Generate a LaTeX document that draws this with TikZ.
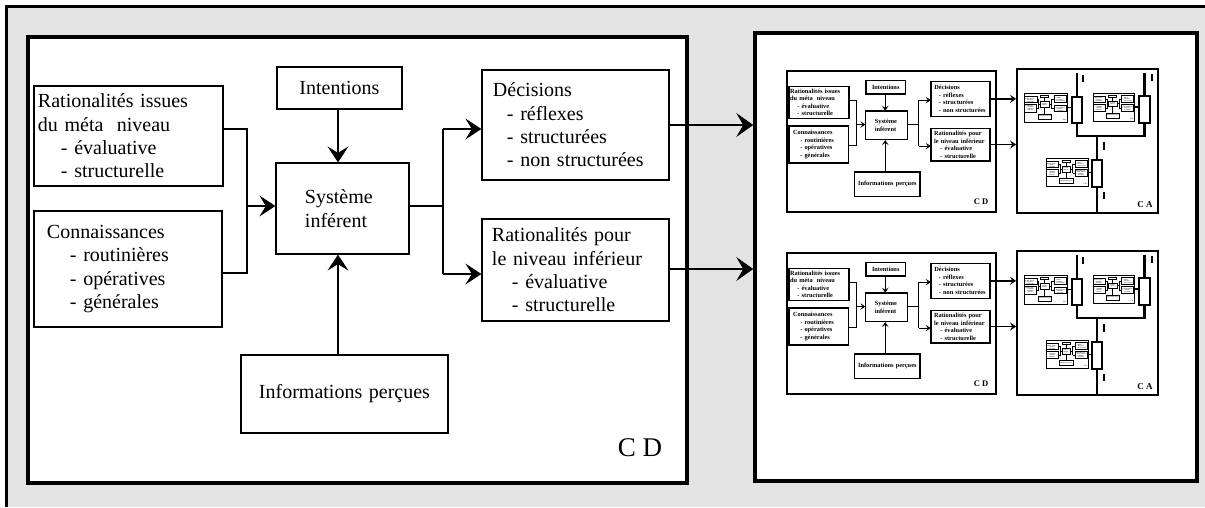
\documentclass[tikz,border=0pt]{standalone}
\usepackage{fontspec}
\setmainfont{Liberation Serif}
\usetikzlibrary{arrows.meta}
\tikzset{
  panel/.style={draw, line width=3.5pt, fill=white, inner sep=0pt, minimum width=659pt, minimum height=446pt},
  box/.style={draw, line width=1.2pt, fill=white, inner xsep=0pt, inner ysep=0pt, font=\fontsize{20}{23.3}\selectfont, align=left},
  bx/.style 2 args={box, minimum width=#1, text width=#1, minimum height=#2},
  conn/.style={line width=1.2pt},
  arr/.style={-{Stealth[length=16pt,width=21pt,inset=6.5pt]}},
  bigarr/.style={-{Stealth[length=17pt,width=24pt,inset=7pt]}},
  lbl/.style={font=\fontsize{27}{30}\selectfont, inner sep=0pt},
  rect/.style={draw, line width=1.2pt, fill=white, inner sep=0pt},
  bus/.style={line width=2.2pt},
  tick/.style={line width=1.2pt},
}
% one "CD" panel, origin at its top-left corner
\newcommand\cdpanel[1]{%
  \node[panel] (#1panel) at (329.5,-223) {};
  \node[bx={189pt}{100pt}] (#1rat) at (100.5,-99) {\hspace*{4pt}Rationalités issues\\\hspace*{4pt}du méta\ \ niveau\\\hspace*{27pt}- évaluative\\\hspace*{27pt}- structurelle};
  \node[bx={188pt}{116pt}] (#1con) at (100,-232) {\hspace*{13pt}Connaissances\\\hspace*{36pt}- routinières\\\hspace*{36pt}- opératives\\\hspace*{36pt}- générales};
  \node[bx={125pt}{42pt}, align=center] (#1int) at (311.5,-51) {Intentions};
  \node[bx={133pt}{91pt}] (#1sys) at (314.5,-171.5) {\hspace*{29pt}Système\\\hspace*{29pt}inférent};
  \node[bx={207pt}{78pt}, align=center] (#1info) at (316.5,-357) {Informations perçues};
  \node[bx={187pt}{110pt}] (#1dec) at (547.5,-88) {\hspace*{11pt}Décisions\\\hspace*{25pt}- réflexes\\\hspace*{25pt}- structurées\\\hspace*{25pt}- non structurées};
  \node[bx={187pt}{102pt}] (#1ratp) at (547.5,-233) {\hspace*{10pt}Rationalités pour\\\hspace*{10pt}le niveau inférieur\\\hspace*{30pt}- évaluative\\\hspace*{30pt}- structurelle};
  \node[lbl] (#1cdl) at (612,-411) {C D};
  \coordinate (#1bx) at (219,0);
  \coordinate (#1ox) at (415,0);
  \coordinate (#1vx) at (310,0);
  \coordinate (#1ry) at (0,-92);
  \coordinate (#1cy) at (0,-236);
  \coordinate (#1sy) at (0,-169);
  \coordinate (#1dy) at (0,-92);
  \coordinate (#1py) at (0,-237);
  \coordinate (#1o1) at (641,-88);
  \coordinate (#1o2) at (641,-232);
  \draw[conn] (#1rat.east |- #1ry) -| (#1bx |- #1cy) -- (#1con.east |- #1cy);
  \draw[conn,arr] (#1bx |- #1sy) -- (#1sys.west |- #1sy);
  \draw[conn,arr] (#1int.south -| #1vx) -- (#1sys.north -| #1vx);
  \draw[conn,arr] (#1info.north -| #1vx) -- (#1sys.south -| #1vx);
  \draw[conn] (#1sys.east |- #1sy) -- (#1ox |- #1sy);
  \draw[conn] (#1ox |- #1dy) -- (#1ox |- #1py);
  \draw[conn,arr] (#1ox |- #1dy) -- (#1dec.west |- #1dy);
  \draw[conn,arr] (#1ox |- #1py) -- (#1ratp.west |- #1py);
}
\newcommand\subcd[4]{%
  \begin{scope}[shift={(#2,#3)}, scale=#4, transform shape,
      panel/.append style={line width=0.9pt}, box/.append style={line width=0.7pt, font=\fontsize{20}{23.3}\selectfont\bfseries},
      conn/.append style={line width=0.5pt}, arr/.style={}, lbl/.append style={font=\fontsize{27}{30}\selectfont\bfseries}]
    \cdpanel{#1}
  \end{scope}}
% miniature pair CD + CA, origin at top-left of the small CD
\newcommand\minipair[3]{%
  \begin{scope}[shift={(#2,-#3)}]
    \begin{scope}[scale=0.317, transform shape,
        panel/.append style={line width=1.8pt}, box/.append style={line width=1.4pt, font=\fontsize{20}{23.3}\selectfont\bfseries},
        conn/.append style={line width=1.2pt}, arr/.style={-{Stealth[length=5pt,width=6.5pt,inset=2.2pt]}},
        lbl/.append style={font=\fontsize{27}{30}\selectfont\bfseries}]
      \cdpanel{#1cd-}
    \end{scope}
    \node[draw, line width=1.8pt, fill=white, inner sep=0pt, minimum width=141pt, minimum height=144pt] (#1ca) at (300.5,-70) {};
    \draw[line width=1.8pt, -{Stealth[length=6pt,width=8pt,inset=2.2pt]}] (#1cd-dec.east |- #1cd-o1) -- (#1ca.west |- #1cd-o1);
    \draw[line width=1.8pt, -{Stealth[length=6pt,width=8pt,inset=2.2pt]}] (#1cd-ratp.east |- #1cd-o2) -- (#1ca.west |- #1cd-o2);
    \subcd{#1s1-}{237}{-22}{0.066}
    \subcd{#1s2-}{306}{-22}{0.063}
    \subcd{#1s3-}{259}{-87}{0.064}
    \coordinate (#1busy) at (0,-65);
    \coordinate (#1topy) at (0,-2);
    \node[rect, minimum width=10pt, minimum height=26pt] (#1rA) at (290,-39) {};
    \node[rect, minimum width=11pt, minimum height=27pt] (#1rB) at (357.5,-38.5) {};
    \node[rect, minimum width=10pt, minimum height=27pt] (#1rC) at (310,-102.5) {};
    \draw[bus] (#1rA.north) -- (#1rA.north |- #1topy);
    \draw[bus] (#1rB.north) -- (#1rB.north |- #1topy);
    \draw[bus] (#1rA.south) |- (#1rB.south |- #1busy) -- (#1rB.south);
    \draw[bus] (#1rC.north |- #1busy) -- (#1rC.north);
    \draw[bus] (#1rC.south) -- (#1ca.south -| #1rC.south);
    \draw[line width=1.2pt] (#1s1-panel.east) -- (#1rA.west |- #1s1-panel.east);
    \draw[line width=1.2pt] (#1s2-panel.east) -- (#1rB.west |- #1s2-panel.east);
    \draw[line width=1.2pt] (#1s3-panel.east) -- (#1rC.west |- #1s3-panel.east);
    \draw[tick] (296,-4) -- (296,-11);
    \draw[tick] (365,-3) -- (365,-10);
    \draw[tick] (317,-71) -- (317,-79);
    \draw[tick] (317,-121) -- (317,-128);
    \node[font=\fontsize{9}{10}\selectfont\bfseries, inner sep=0pt] (#1cal) at (358,-134) {C A};
  \end{scope}}
\begin{document}
\begin{tikzpicture}[x=1pt,y=1pt]
\begin{scope}[shift={(-1050,140)}]
\useasboundingbox (0,0) rectangle (1205,-507);
\fill[white] (0,0) rectangle (1205,-507);
\fill[black!11] (5,-5) rectangle (1205,-507);
\draw[line width=3pt] (6.5,-507) -- (6.5,-6.5) -- (1205,-6.5);
\begin{scope}[shift={(28,-37)}]
  \cdpanel{cd-}
\end{scope}
\node[draw, line width=3.5pt, fill=white, minimum width=442pt, minimum height=448pt, inner sep=0pt] (rp) at (976,-257) {};
\draw[conn,bigarr] (cd-dec.east |- cd-o1) -- (rp.west |- cd-o1);
\draw[conn,bigarr] (cd-ratp.east |- cd-o2) -- (rp.west |- cd-o2);
\minipair{ma-}{787}{71}
\minipair{mb-}{787}{253}
\end{scope}
\end{tikzpicture}
\end{document}
